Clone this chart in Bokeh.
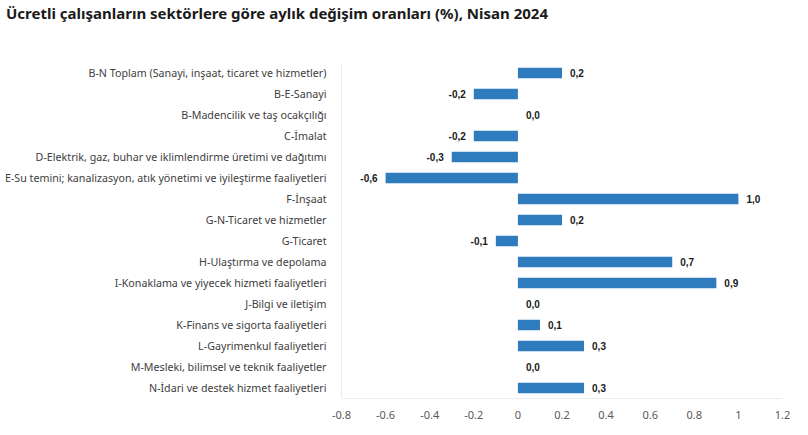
from bokeh.plotting import figure
from bokeh.models import FactorRange, FixedTicker, CustomJSTickFormatter, ColumnDataSource, Div
from bokeh.layouts import column
from bokeh.core.properties import value
from bokeh.embed import file_html
from bokeh.resources import INLINE

title_text = "Ücretli çalışanların sektörlere göre aylık değişim oranları (%), Nisan 2024"

categories = [
    "B-N Toplam (Sanayi, inşaat, ticaret ve hizmetler)",
    "B-E-Sanayi",
    "B-Madencilik ve taş ocakçılığı",
    "C-İmalat",
    "D-Elektrik, gaz, buhar ve iklimlendirme üretimi ve dağıtımı",
    "E-Su temini; kanalizasyon, atık yönetimi ve iyileştirme faaliyetleri",
    "F-İnşaat",
    "G-N-Ticaret ve hizmetler",
    "G-Ticaret",
    "H-Ulaştırma ve depolama",
    "I-Konaklama ve yiyecek hizmeti faaliyetleri",
    "J-Bilgi ve iletişim",
    "K-Finans ve sigorta faaliyetleri",
    "L-Gayrimenkul faaliyetleri",
    "M-Mesleki, bilimsel ve teknik faaliyetler",
    "N-İdari ve destek hizmet faaliyetleri",
]
values = [0.2, -0.2, 0.0, -0.2, -0.3, -0.6, 1.0, 0.2, -0.1, 0.7, 0.9, 0.0, 0.1, 0.3, 0.0, 0.3]
x_ticks = [-0.8, -0.6, -0.4, -0.2, 0.0, 0.2, 0.4, 0.6, 0.8, 1.0, 1.2]

labels = [f"{v:.1f}".replace(".", ",") for v in values]
aligns = ["right" if v < 0 else "left" for v in values]
offsets = [-8 if v < 0 else 8 for v in values]

src = ColumnDataSource(dict(cat=categories, val=values, lab=labels, al=aligns, off=offsets))

title = Div(text=title_text, width=784, height=28, margin=(0, 0, 0, 6),
            styles={"font-family": "Noto Sans", "font-size": "15px", "font-weight": "bold",
                    "color": "#1a1a1a", "line-height": "26px", "white-space": "nowrap"})

p = figure(
    width=790, height=393,
    y_range=FactorRange(factors=list(reversed(categories)), range_padding=0),
    x_range=(-0.8, 1.2),
    output_backend="svg", toolbar_location=None,
    min_border_left=341, min_border_right=8, min_border_bottom=21, min_border_top=34,
)

p.hbar(y="cat", right="val", left=0, height=0.5, source=src,
       fill_color="#2e7bbd", line_color=None)
p.text(x="val", y="cat", text="lab", text_align="al", x_offset="off", text_baseline="middle",
       source=src, text_font=value("Liberation Sans"), text_font_size="10px",
       text_font_style="bold", text_color="#1a1a1a")

p.xgrid.visible = False
p.ygrid.visible = False
p.outline_line_color = None

p.xaxis.ticker = FixedTicker(ticks=x_ticks)
p.xaxis.formatter = CustomJSTickFormatter(code="return String(Math.round(tick*10)/10);")
p.xaxis.major_tick_line_color = None
p.xaxis.minor_tick_line_color = None
p.xaxis.axis_line_color = "#ececec"
p.xaxis.major_label_standoff = 6
p.xaxis.major_label_text_font = "Noto Sans"
p.xaxis.major_label_text_font_size = "11px"
p.xaxis.major_label_text_color = "#595959"

p.yaxis.major_tick_line_color = None
p.yaxis.minor_tick_line_color = None
p.yaxis.axis_line_color = "#ececec"
p.yaxis.major_label_standoff = 9
p.yaxis.major_label_text_font = "Noto Sans"
p.yaxis.major_label_text_font_size = "10.7px"
p.yaxis.major_label_text_color = "#404040"

layout = column(title, p)
open("out.html", "w").write(file_html(layout, INLINE))
